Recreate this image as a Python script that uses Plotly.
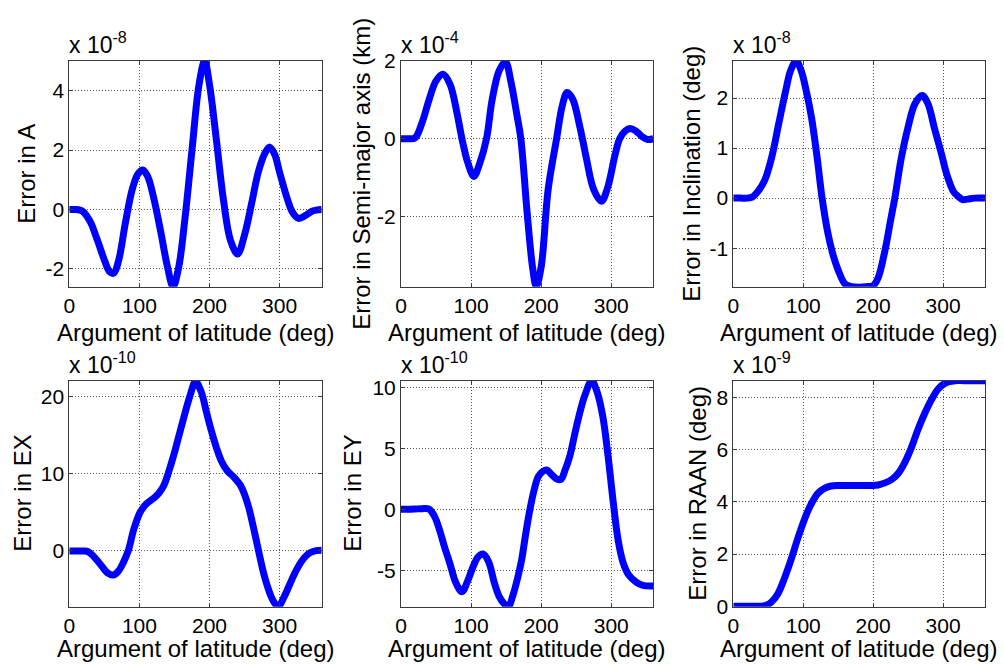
import plotly.graph_objects as go

# ---------------- data (values in units of the exponent shown above each panel) ----------------
a_deg = [0, 10, 15, 20, 30, 40, 50, 57, 63, 70, 80, 90, 98, 105, 112, 120, 130, 140, 148, 156,
         165, 175, 185, 193, 200, 210, 220, 230, 240, 250, 260, 270, 280, 286, 293, 300, 310,
         318, 327, 337, 347, 360]
a_err = [0, 0, -0.02, -0.08, -0.42, -1.03, -1.7, -2.08, -2.15, -1.75, -0.45, 0.7, 1.2, 1.33,
         1.1, 0.43, -0.7, -1.93, -2.6, -1.95, -0.3, 2.0, 4.2, 5.0, 4.2, 2.3, 0.3, -1.05, -1.5,
         -0.85, 0.2, 1.3, 1.94, 2.1, 1.85, 1.25, 0.43, -0.08, -0.3, -0.2, -0.05, 0]

sma_deg = [0, 10, 20, 30, 40, 50, 60, 70, 80, 87, 95, 104, 112, 122, 130, 140, 149, 157, 165,
           171, 180, 188, 193, 200, 210, 222, 230, 237, 245, 255, 260, 265, 275, 286, 295, 305,
           312, 320, 327, 335, 345, 352, 360]
sma_err = [0, 0, 0.02, 0.41, 1.0, 1.49, 1.66, 1.4, 0.65, 0, -0.6, -0.97, -0.65, 0, 1.0, 1.75,
           1.98, 1.45, 0.65, 0, -1.91, -3.35, -3.8, -3.3, -1.3, 0, 0.84, 1.19, 1.02, 0.32, -0.1,
           -0.55, -1.31, -1.61, -1.25, -0.45, 0, 0.2, 0.26, 0.2, 0.04, -0.02, 0]

inc_deg = [0, 10, 20, 27, 35, 45, 55, 65, 75, 82, 90, 97, 105, 112, 120, 127, 135, 142, 150,
           160, 170, 180, 190, 200, 207, 217, 225, 231, 240, 250, 260, 270, 278, 288, 298, 305,
           315, 322, 328, 335, 345, 360]
inc_err = [0, 0, 0, 0.02, 0.13, 0.36, 0.82, 1.49, 2.15, 2.55, 2.74, 2.55, 2.1, 1.6, 0.8, 0,
           -0.68, -1.1, -1.44, -1.72, -1.77, -1.78, -1.77, -1.75, -1.6, -1.04, -0.44, 0, 0.78,
           1.42, 1.89, 2.05, 1.9, 1.38, 0.87, 0.49, 0.13, 0.03, -0.03, -0.02, 0, 0]

ex_deg = [0, 10, 20, 27, 35, 45, 55, 63, 70, 77, 84, 92, 101, 110, 120, 128, 135, 142, 149,
          157, 165, 172, 180, 188, 196, 203, 210, 217, 225, 235, 244, 250, 256, 263, 270, 276,
          282, 290, 298, 306, 315, 322, 330, 337, 344, 352, 360]
ex_err = [0, 0, 0, -0.1, -0.73, -1.8, -2.85, -3.1, -2.6, -1.5, 0, 2.8, 5.0, 6.1, 6.8, 7.5,
          8.5, 10.3, 12.4, 15.1, 17.8, 20.0, 21.9, 20.6, 17.8, 15.4, 13.3, 11.6, 10.4, 9.5, 8.5,
          7.3, 5.6, 2.9, 0, -2.45, -4.4, -6.3, -7.2, -6.0, -4.2, -2.8, -1.5, -0.7, -0.2, 0.05,
          0.1]

ey_deg = [0, 10, 20, 30, 40, 48, 55, 62, 70, 78, 87, 95, 103, 110, 117, 125, 133, 140, 147,
          153, 160, 167, 172, 178, 184, 190, 196, 202, 208, 215, 222, 228, 234, 241, 248, 255,
          262, 272, 280, 288, 295, 303, 310, 317, 325, 336, 345, 360]
ey_err = [0, 0, 0.02, 0.05, 0.02, -0.6, -1.7, -3.07, -4.5, -6.0, -6.77, -5.9, -4.7, -3.9,
          -3.67, -4.3, -6.0, -7.15, -7.75, -8.0, -7.0, -5.5, -4.2, -2.0, 0, 1.6, 2.7, 3.1,
          3.23, 2.85, 2.5, 2.45, 3.2, 4.4, 6.2, 7.9, 9.3, 10.55, 9.6, 7.6, 4.6, 0.5, -2.6,
          -4.4, -5.4, -6.0, -6.25, -6.3]

raan_deg = [0, 10, 20, 30, 40, 48, 55, 64, 74, 84, 91, 98, 105, 112, 121, 131, 140, 150, 160,
            170, 180, 190, 200, 207, 217, 227, 236, 245, 255, 264, 274, 284, 293, 303, 317, 330,
            345, 360]
raan_err = [0, 0, 0, 0, 0, 0.05, 0.17, 0.49, 1.13, 1.9, 2.5, 3.05, 3.55, 3.95, 4.33, 4.53,
            4.61, 4.63, 4.63, 4.63, 4.63, 4.63, 4.63, 4.65, 4.73, 4.87, 5.1, 5.5, 6.1, 6.77, 7.41,
            7.95, 8.33, 8.56, 8.65, 8.65, 8.65, 8.65]

y_titles = ["Error in A", "Error in Semi-major axis (km)", "Error in Inclination (deg)",
            "Error in EX", "Error in EY", "Error in RAAN (deg)"]
exponents = ["-8", "-4", "-8", "-10", "-10", "-9"]
y_ranges = [[-2.6, 5.0], [-3.81, 2.0], [-1.77, 2.74], [-7.2, 22.0], [-8.0, 10.56], [-0.02, 8.65]]
y_ticks = [[-2, 0, 2, 4], [-2, 0, 2], [-1, 0, 1, 2], [0, 10, 20], [-5, 0, 5, 10], [0, 2, 4, 6, 8]]
x_ticks = [0, 100, 200, 300]
x_title = "Argument of latitude (deg)"

series = [(a_deg, a_err), (sma_deg, sma_err), (inc_deg, inc_err),
          (ex_deg, ex_err), (ey_deg, ey_err), (raan_deg, raan_err)]

# ---------------- layout (pixel geometry of the figure) ----------------
W, H = 1004, 665
col_px = [(69.3, 321.7), (401.0, 653.3), (733.3, 985.0)]
row_px = [(61.0, 286.7), (380.7, 606.7)]
ytitle_x_px = [27, 362, 692, 23, 353, 698]
xtitle_y_px = [332, 648]

FONT = "Liberation Sans, Arial, Helvetica, sans-serif"
AX_COL = "#3a3a3a"
GRID_COL = "#555555"

fig = go.Figure()
layout = dict(
    width=W, height=H, autosize=False,
    margin=dict(l=0, r=0, t=0, b=0, pad=0, autoexpand=False),
    paper_bgcolor="white", plot_bgcolor="white",
    showlegend=False,
    font=dict(family=FONT, size=21, color="black"),
)
annotations = []

for i, ((xd, yd), yt, ex, yr, ytk) in enumerate(zip(series, y_titles, exponents, y_ranges, y_ticks)):
    r, c = divmod(i, 3)
    x0, x1 = col_px[c]
    ytop, ybot = row_px[r]
    n = "" if i == 0 else str(i + 1)
    fig.add_trace(go.Scatter(
        x=xd, y=yd, mode="lines",
        line=dict(color="rgb(0,0,255)", width=7, shape="spline", smoothing=1.0),
        xaxis="x" + n, yaxis="y" + n, hoverinfo="skip",
    ))
    common = dict(
        showline=True, mirror="ticks", linecolor=AX_COL, linewidth=1,
        ticks="inside", ticklen=4, tickcolor=AX_COL, tickwidth=1,
        showgrid=True, gridcolor=GRID_COL, griddash="1px,2px", gridwidth=1,
        zeroline=False, automargin=False,
        tickfont=dict(family=FONT, size=21, color="black"),
    )
    layout["xaxis" + n] = dict(
        common, domain=[x0 / W, x1 / W], range=[0, 360],
        tickvals=x_ticks, ticktext=[str(v) for v in x_ticks], anchor="y" + n,
    )
    layout["yaxis" + n] = dict(
        common, domain=[1 - ybot / H, 1 - ytop / H], range=yr,
        tickvals=ytk, ticktext=[str(v) for v in ytk], anchor="x" + n,
    )
    annotations.append(dict(
        text=yt, textangle=-90, xref="paper", yref="paper",
        x=ytitle_x_px[i] / W, y=1 - (ytop + ybot) / 2 / H,
        xanchor="center", yanchor="middle", showarrow=False,
        font=dict(family=FONT, size=24, color="black"),
    ))
    annotations.append(dict(
        text=x_title, xref="paper", yref="paper",
        x=(x0 + x1) / 2 / W, y=1 - xtitle_y_px[r] / H,
        xanchor="center", yanchor="middle", showarrow=False,
        font=dict(family=FONT, size=24, color="black"),
    ))
    annotations.append(dict(
        text="x 10<sup>" + ex + "</sup>", xref="paper", yref="paper",
        x=(x0 - 2) / W, y=1 - (ytop - 1.0) / H,
        xanchor="left", yanchor="bottom", showarrow=False,
        font=dict(family=FONT, size=23, color="black"),
    ))

layout["annotations"] = annotations
fig.update_layout(**layout)
fig.write_html("out.html")
